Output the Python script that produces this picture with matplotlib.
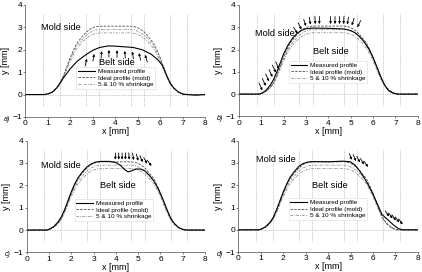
import matplotlib
matplotlib.use("Agg")
import matplotlib.pyplot as plt
from matplotlib.lines import Line2D

plt.rcParams["font.family"] = ["Liberation Sans", "DejaVu Sans"]
plt.rcParams["font.size"] = 6

# ideal (mold) profile and 5 / 10 % shrinkage
x_ideal = [0, 0.9, 1.0, 1.2, 1.4, 1.55, 1.7, 1.85, 2.0, 2.15, 2.3, 2.5, 2.7, 2.9, 3.1, 3.3,
           4.7, 4.9, 5.1, 5.3, 5.5, 5.7, 5.85, 6.0, 6.15, 6.3, 6.45, 6.6, 6.8, 7.0, 7.1, 8.0]
y_ideal = [0, 0, 0.02, 0.12, 0.30, 0.52, 0.85, 1.25, 1.65, 2.0, 2.3, 2.55, 2.78, 2.93, 3.02, 3.05,
           3.05, 3.02, 2.93, 2.78, 2.55, 2.3, 2.0, 1.65, 1.25, 0.85, 0.52, 0.30, 0.12, 0.02, 0, 0]
y_shrink5 = [0, 0, 0.02, 0.11, 0.29, 0.49, 0.81, 1.19, 1.57, 1.90, 2.19, 2.42, 2.64, 2.78, 2.87, 2.90,
             2.90, 2.87, 2.78, 2.64, 2.42, 2.19, 1.90, 1.57, 1.19, 0.81, 0.49, 0.29, 0.11, 0.02, 0, 0]
y_shrink10 = [0, 0, 0.02, 0.11, 0.27, 0.47, 0.77, 1.13, 1.49, 1.80, 2.07, 2.30, 2.50, 2.64, 2.72, 2.75,
              2.75, 2.72, 2.64, 2.50, 2.30, 2.07, 1.80, 1.49, 1.13, 0.77, 0.47, 0.27, 0.11, 0.02, 0, 0]

# measured profiles
xa = [0, 0.8, 1.0, 1.2, 1.4, 1.55, 1.7, 2.0, 2.3, 2.7, 3.0, 3.3, 3.7, 4.0, 4.4, 4.8, 5.2, 5.6,
      5.9, 6.1, 6.3, 6.45, 6.6, 6.8, 7.0, 7.2, 7.6, 8.0]
ya = [0, 0, 0.03, 0.1, 0.3, 0.52, 0.75, 1.15, 1.48, 1.78, 1.97, 2.1, 2.17, 2.16, 2.13, 2.1, 2.0, 1.8,
      1.55, 1.3, 0.82, 0.5, 0.3, 0.12, 0.03, 0, -0.03, 0]

xb = [0, 0.9, 1.0, 1.2, 1.4, 1.55, 1.7, 1.85, 2.0, 2.2, 2.4, 2.6, 2.8, 3.0, 3.3, 4.0, 4.7, 5.0, 5.2,
      5.4, 5.6, 5.8, 6.0, 6.2, 6.4, 6.55, 6.7, 6.9, 7.1, 8.0]
yb = [0, 0, 0.03, 0.15, 0.4, 0.65, 1.0, 1.4, 1.8, 2.2, 2.5, 2.72, 2.86, 2.93, 2.96, 2.95, 2.92, 2.85,
      2.75, 2.58, 2.35, 2.05, 1.65, 1.15, 0.65, 0.35, 0.15, 0.04, 0, 0]

xc = [0, 0.9, 1.0, 1.2, 1.4, 1.55, 1.7, 1.85, 2.0, 2.15, 2.3, 2.5, 2.7, 2.9, 3.1, 3.3, 3.7, 4.0, 4.2,
      4.4, 4.55, 4.7, 4.9, 5.1, 5.3, 5.5, 5.7, 5.9, 6.1, 6.3, 6.45, 6.6, 6.8, 7.0, 7.2, 8.0]
yc = [0, 0, 0.03, 0.14, 0.35, 0.58, 0.9, 1.3, 1.7, 2.05, 2.33, 2.6, 2.82, 2.96, 3.04, 3.07, 3.07, 3.02,
      2.9, 2.7, 2.6, 2.65, 2.73, 2.73, 2.65, 2.45, 2.2, 1.85, 1.4, 0.9, 0.55, 0.32, 0.12, 0.03, 0, 0]

xd = [0, 0.9, 1.0, 1.2, 1.4, 1.55, 1.7, 1.85, 2.0, 2.15, 2.3, 2.5, 2.7, 2.9, 3.1, 3.3, 4.0, 4.7, 5.0,
      5.2, 5.4, 5.6, 5.8, 6.0, 6.2, 6.4, 6.55, 6.7, 6.85, 7.0, 7.15, 7.3, 8.0]
yd = [0, 0, 0.03, 0.13, 0.33, 0.55, 0.9, 1.3, 1.7, 2.05, 2.35, 2.62, 2.85, 2.98, 3.04, 3.06, 3.05, 3.08,
      3.05, 2.9, 2.65, 2.35, 2.0, 1.6, 1.15, 0.7, 0.55, 0.42, 0.28, 0.15, 0.05, 0, 0]

measured = [(xa, ya), (xb, yb), (xc, yc), (xd, yd)]

grid_x = [0.8, 1.55, 2.7, 3.3, 4.7, 5.3, 6.45, 7.2]

# arrows: (tail x, tail y, head x, head y)
arrows_a = [(2.66, 1.28, 2.74, 1.60), (3.01, 1.49, 3.06, 1.81), (3.37, 1.62, 3.40, 1.94),
            (3.72, 1.67, 3.72, 1.99), (4.08, 1.66, 4.08, 1.98), (4.45, 1.63, 4.42, 1.95),
            (4.81, 1.60, 4.76, 1.92), (5.13, 1.53, 5.06, 1.85), (5.43, 1.45, 5.33, 1.77)]
arrows_b = [(0.9, 0.5, 1.05, 0.17), (1.05, 0.7, 1.2, 0.37), (1.2, 0.9, 1.35, 0.57),
            (1.35, 1.1, 1.5, 0.77), (1.5, 1.3, 1.65, 0.97), (1.65, 1.45, 1.8, 1.12),
            (2.45, 3.0, 2.62, 2.72), (2.65, 3.2, 2.8, 2.9), (2.9, 3.35, 3.0, 3.05),
            (3.15, 3.45, 3.2, 3.12), (3.4, 3.48, 3.42, 3.14), (3.6, 3.48, 3.6, 3.14),
            (4.1, 3.48, 4.1, 3.14), (4.3, 3.48, 4.3, 3.14), (4.5, 3.48, 4.5, 3.14),
            (4.7, 3.48, 4.68, 3.14), (4.9, 3.45, 4.85, 3.12), (5.15, 3.4, 5.05, 3.08),
            (5.45, 3.3, 5.3, 3.0)]
arrows_c = [(3.98, 3.45, 3.98, 3.15), (4.13, 3.45, 4.13, 3.15), (4.28, 3.45, 4.28, 3.15),
            (4.43, 3.45, 4.43, 3.15), (4.58, 3.45, 4.6, 3.15), (4.75, 3.44, 4.8, 3.13),
            (4.92, 3.4, 5.0, 3.1), (5.08, 3.33, 5.2, 3.04), (5.25, 3.24, 5.4, 2.97),
            (5.4, 3.13, 5.6, 2.87)]
arrows_d = [(4.95, 3.42, 5.05, 3.14), (5.12, 3.37, 5.24, 3.08), (5.28, 3.3, 5.42, 3.02),
            (5.44, 3.2, 5.6, 2.93), (5.6, 3.08, 5.78, 2.82),
            (6.55, 0.85, 6.72, 0.6), (6.7, 0.76, 6.87, 0.51), (6.85, 0.67, 7.02, 0.42),
            (7.0, 0.58, 7.17, 0.33), (7.15, 0.49, 7.32, 0.24)]
arrows = [arrows_a, arrows_b, arrows_c, arrows_d]

panel_labels = ["a)", "b)", "c)", "d)"]
mold_pos = [(0.72, 3.0), (0.72, 2.7), (0.66, 2.9), (0.78, 3.17)]
belt_pos = [(3.3, 1.42), (3.3, 1.9), (3.3, 1.98), (3.3, 1.98)]
legend_pos = [(2.27, 1.22), (2.24, 1.48), (2.16, 1.38), (2.25, 1.41)]

rects = [[0.060, 0.570, 0.426, 0.412], [0.566, 0.572, 0.424, 0.410],
         [0.063, 0.072, 0.423, 0.411], [0.565, 0.073, 0.425, 0.410]]

fig = plt.figure(figsize=(4.22, 2.72), dpi=100)

for i in range(4):
    ax = fig.add_axes(rects[i])
    for gx in grid_x:
        ax.plot([gx, gx], [-0.5, 3.6], color="0.6", lw=0.5, ls=(0, (1, 1.5)))
    ax.plot([0, 8], [0, 0], color="0.6", lw=0.5, ls=(0, (1, 1.5)))

    ax.plot(x_ideal, y_shrink10, color="0.55", lw=0.6, ls=(0, (3, 1.5, 1, 1.5)))
    ax.plot(x_ideal, y_shrink5, color="0.55", lw=0.6, ls=(0, (3, 1.5, 1, 1.5)))
    ax.plot(x_ideal, y_ideal, color="0.3", lw=0.6, ls=(0, (3, 1.5)))
    mx, my = measured[i]
    ax.plot(mx, my, color="black", lw=0.8)

    for (x0, y0, x1, y1) in arrows[i]:
        ax.annotate("", xy=(x1, y1), xytext=(x0, y0),
                    arrowprops=dict(arrowstyle="-|>", color="black", lw=0.6,
                                    mutation_scale=3, shrinkA=0, shrinkB=0))

    ax.text(mold_pos[i][0], mold_pos[i][1], "Mold side", fontsize=6.7, va="center")
    ax.text(belt_pos[i][0], belt_pos[i][1], "Belt side", fontsize=6.7, va="center")

    handles = [Line2D([], [], color="black", lw=0.8),
               Line2D([], [], color="0.3", lw=0.6, ls=(0, (3, 1.5))),
               Line2D([], [], color="0.55", lw=0.6, ls=(0, (3, 1.5, 1, 1.5)))]
    leg = ax.legend(handles, ["Measured profile", "Ideal profile (mold)", "5 & 10 % shrinkage"],
                    loc="upper left", bbox_to_anchor=legend_pos[i], bbox_transform=ax.transData,
                    fontsize=4.6, frameon=True, fancybox=False, framealpha=1,
                    handlelength=2.6, handletextpad=0.5, borderpad=0.25,
                    labelspacing=0.15, borderaxespad=0)
    leg.get_frame().set_edgecolor("0.85")
    leg.get_frame().set_linewidth(0.4)

    ax.set_xlim(0, 8)
    ax.set_ylim(-1, 4)
    ax.set_xticks(range(0, 9))
    ax.set_yticks(range(-1, 5))
    ax.spines["top"].set_visible(False)
    ax.spines["right"].set_visible(False)
    for s in ["left", "bottom"]:
        ax.spines[s].set_linewidth(0.5)
        ax.spines[s].set_color("0.3")
    ax.tick_params(labelsize=6, width=0.5, length=1.5, pad=0.8, color="0.3")
    ax.set_xlabel("x [mm]", fontsize=6.5, labelpad=0)
    ax.set_ylabel("y [mm]", fontsize=6.5, labelpad=2)
    ax.text(-0.12, -0.02, panel_labels[i], transform=ax.transAxes, fontsize=5,
            style="italic", ha="left", va="center")

fig.savefig("out.png", dpi=100)
